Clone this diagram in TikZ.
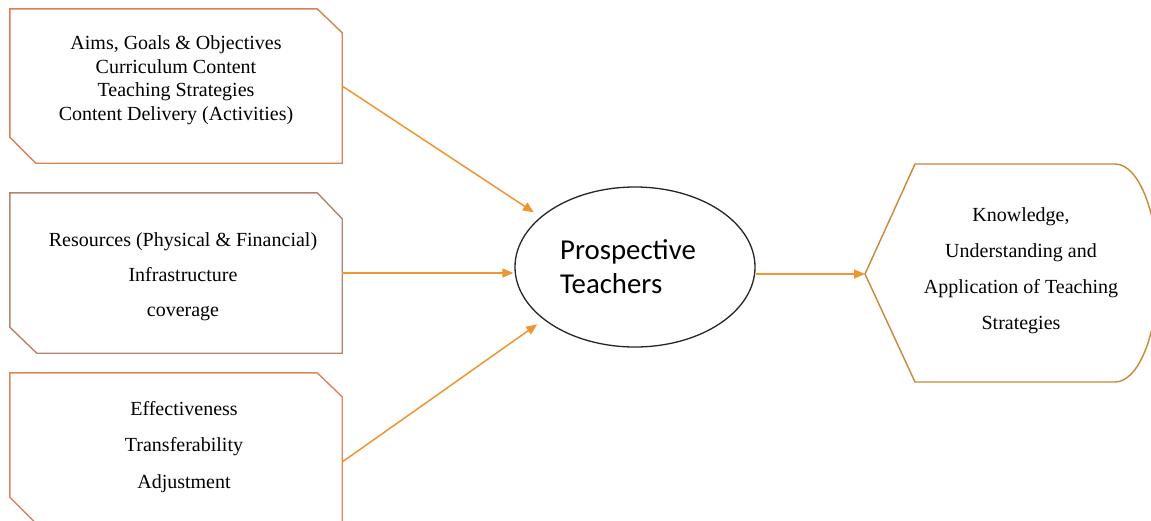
\documentclass[tikz,border=0pt]{standalone}
\usepackage{fontspec}
\setmainfont{Liberation Serif}
\newfontfamily\calib{Carlito}
\usetikzlibrary{arrows.meta,shapes.geometric}
\definecolor{cboxA}{HTML}{DD7F55}
\definecolor{cboxB}{HTML}{B5836F}
\definecolor{cboxC}{HTML}{E0845A}
\definecolor{cout}{HTML}{C8883A}
\definecolor{carrow}{HTML}{EF9630}
\definecolor{cell}{HTML}{262626}
\begin{document}
\begin{tikzpicture}[x=1pt,y=-1pt,
  boxarea/.style={draw=none,inner sep=0pt,minimum width=332pt},
  boxtext/.style={align=center,inner sep=0pt,font=\fontsize{20}{23.5}\selectfont},
  outline/.style={line width=1.4pt,line join=miter},
  arr/.style={draw=carrow,line width=1.5pt,-{Triangle[length=11pt,width=9pt]}}]
\useasboundingbox (0,0) rectangle (1151,520);
\clip (0,0) rectangle (1151,520);
\fill[white] (0,0) rectangle (1151,520);

% box areas
\node[boxarea,minimum height=154pt] (b1) at (176,86) {};
\node[boxarea,minimum height=160pt] (b2) at (176,273) {};
\node[boxarea,minimum height=150pt] (b3) at (176,448) {};

% outlines
\draw[outline,cboxA] (b1.north west) -- ([xshift=-25pt]b1.north east) -- ([yshift=-24pt]b1.north east)
  -- (b1.south east) -- ([xshift=26pt]b1.south west) -- ([yshift=26pt]b1.south west) -- cycle;
\draw[outline,cboxB] (b2.north west) -- ([xshift=-25pt]b2.north east) -- ([yshift=-26pt]b2.north east)
  -- (b2.south east) -- ([xshift=27pt]b2.south west) -- ([yshift=26pt]b2.south west) -- cycle;
\draw[outline,cboxC] (b3.north west) -- ([xshift=-25pt]b3.north east) -- ([yshift=-24pt]b3.north east)
  -- (b3.south east) -- ([xshift=26pt]b3.south west) -- ([yshift=26pt]b3.south west) -- cycle;

% texts
\node[boxtext] (t1) at (176,80) {Aims, Goals \& Objectives\\Curriculum Content\\Teaching Strategies\\Content Delivery (Activities)};
\node[boxtext,font=\fontsize{20}{35}\selectfont] (t2) at (183,277) {Resources (Physical \& Financial)\\Infrastructure\\coverage};
\node[boxtext,font=\fontsize{20}{36.5}\selectfont] (t3) at (184,447) {Effectiveness\\Transferability\\Adjustment};

% ellipse
\node[ellipse,draw=cell,line width=1.3pt,minimum width=240pt,minimum height=160pt,inner sep=0pt,
  align=left,font=\calib\fontsize{28.8}{34}\selectfont] (ell) at (635,267) {Prospective\hspace*{14pt}\\Teachers};

% output shape
\coordinate (outtip) at (865,274);
\draw[outline,cout,line join=round] (outtip) -- (915,164) -- (1115,164)
  .. controls (1138.7,164) and (1158,212.8) .. (1158,273)
  .. controls (1158,333.2) and (1138.7,382) .. (1115,382)
  -- (915,382) -- cycle;
\node[boxtext,font=\fontsize{20}{36}\selectfont] (t4) at (1021,271) {Knowledge,\\Understanding and\\Application of Teaching\\Strategies};

% connectors
\draw[arr,shorten >=8pt] (b1.east) -- (ell.152);
\draw[arr,shorten >=1pt] (b2.east) -- (b2.east -| ell.west);
\draw[arr,shorten >=8pt] ([yshift=-14pt]b3.east) -- (ell.210);
\draw[arr] (ell.east |- outtip) -- (outtip);
\end{tikzpicture}
\end{document}
